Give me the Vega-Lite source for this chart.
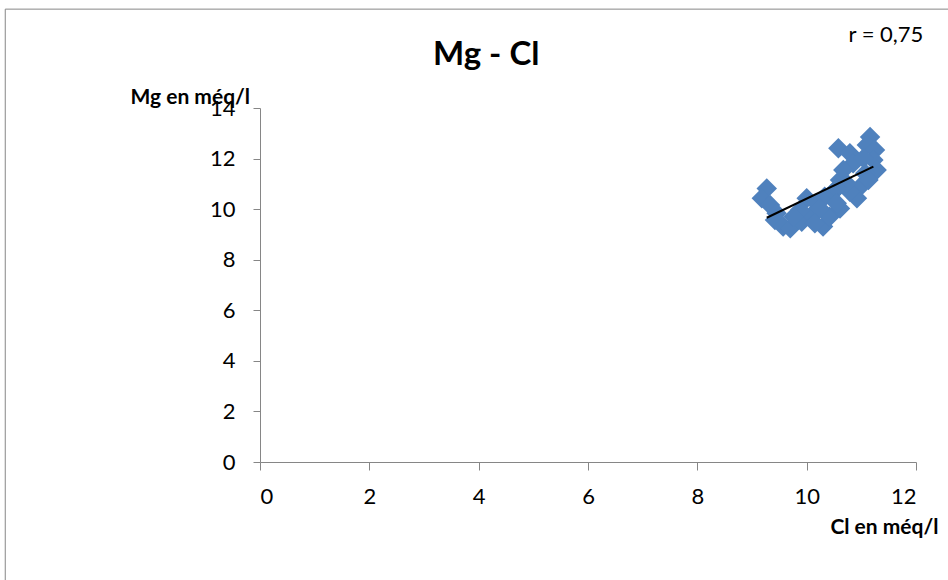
{
  "$schema": "https://vega.github.io/schema/vega-lite/v6.json",
  "width": 656,
  "height": 354,
  "autosize": {"type": "none"},
  "padding": {"left": 260, "top": 108, "right": 32, "bottom": 118},
  "background": "white",
  "title": {
    "text": "Mg - Cl",
    "font": "Lato",
    "fontSize": 33,
    "fontWeight": "bold",
    "color": "black",
    "anchor": "start",
    "frame": "group",
    "dx": 173,
    "baseline": "alphabetic",
    "offset": -89
  },
  "config": {
    "view": {"stroke": null},
    "axis": {
      "grid": false,
      "domainColor": "#868686",
      "tickColor": "#868686",
      "labelFont": "Lato",
      "labelFontSize": 22,
      "labelColor": "black",
      "titleFont": "Lato",
      "titleFontSize": 21,
      "titleFontWeight": "bold",
      "titleColor": "black"
    }
  },
  "layer": [
    {
      "data": {"values": [{"frame": "chart area"}]},
      "mark": {"type": "rect", "fill": null, "stroke": "#868686", "strokeWidth": 1, "clip": false},
      "encoding": {
        "x": {"datum": -4.66, "type": "quantitative"},
        "x2": {"datum": 12.8},
        "y": {"datum": 17.91, "type": "quantitative"},
        "y2": {"datum": -5.2}
      }
    },
    {
      "data": {
        "values": [
          {"cl": 9.27, "mg": 10.82},
          {"cl": 9.18, "mg": 10.43},
          {"cl": 9.33, "mg": 10.16},
          {"cl": 9.45, "mg": 9.84},
          {"cl": 9.42, "mg": 9.57},
          {"cl": 9.57, "mg": 9.31},
          {"cl": 9.70, "mg": 9.24},
          {"cl": 9.91, "mg": 9.50},
          {"cl": 10.00, "mg": 10.43},
          {"cl": 10.09, "mg": 9.77},
          {"cl": 10.18, "mg": 10.23},
          {"cl": 10.30, "mg": 9.31},
          {"cl": 10.42, "mg": 9.70},
          {"cl": 10.61, "mg": 10.03},
          {"cl": 10.33, "mg": 10.49},
          {"cl": 10.49, "mg": 10.69},
          {"cl": 10.61, "mg": 11.15},
          {"cl": 10.58, "mg": 12.41},
          {"cl": 10.79, "mg": 12.21},
          {"cl": 10.85, "mg": 11.81},
          {"cl": 10.67, "mg": 11.55},
          {"cl": 10.98, "mg": 10.89},
          {"cl": 10.92, "mg": 10.43},
          {"cl": 10.79, "mg": 10.69},
          {"cl": 11.16, "mg": 12.85},
          {"cl": 11.10, "mg": 12.54},
          {"cl": 11.25, "mg": 12.34},
          {"cl": 11.22, "mg": 11.94},
          {"cl": 11.28, "mg": 11.55},
          {"cl": 11.07, "mg": 11.42},
          {"cl": 11.13, "mg": 11.15},
          {"cl": 11.04, "mg": 12.01},
          {"cl": 10.73, "mg": 11.02},
          {"cl": 10.55, "mg": 10.82},
          {"cl": 10.24, "mg": 10.03},
          {"cl": 9.88, "mg": 9.97},
          {"cl": 9.76, "mg": 9.70},
          {"cl": 10.15, "mg": 9.44},
          {"cl": 10.55, "mg": 10.23}
        ]
      },
      "mark": {"type": "point", "shape": "diamond", "filled": true, "opacity": 1, "size": 420, "color": "#4F81BD"},
      "encoding": {
        "x": {
          "field": "cl", "type": "quantitative",
          "scale": {"domain": [0, 12], "nice": false},
          "axis": {
            "values": [0, 2, 4, 6, 8, 10, 12],
            "format": "d",
            "tickSize": 8,
            "labelPadding": 16,
            "title": "Cl  en méq/l",
            "titleX": 678,
            "titleY": 71,
            "titleAlign": "right",
            "titleAnchor": "end",
            "titleBaseline": "alphabetic"
          }
        },
        "y": {
          "field": "mg", "type": "quantitative",
          "scale": {"domain": [0, 14], "nice": false},
          "axis": {
            "values": [0, 2, 4, 6, 8, 10, 12, 14],
            "format": "d",
            "tickSize": 7,
            "labelPadding": 18,
            "title": "Mg  en méq/l",
            "titleAngle": 0,
            "titleX": -130,
            "titleY": -5,
            "titleAlign": "left",
            "titleBaseline": "alphabetic"
          }
        }
      }
    },
    {
      "data": {"values": [{"cl": 9.27, "mg": 9.66}, {"cl": 11.22, "mg": 11.68}]},
      "mark": {"type": "line", "color": "black", "strokeWidth": 2},
      "encoding": {
        "x": {"field": "cl", "type": "quantitative"},
        "y": {"field": "mg", "type": "quantitative"}
      }
    },
    {
      "data": {"values": [{"label": "r = 0,75"}]},
      "mark": {"type": "text", "font": "Lato", "fontSize": 22, "color": "black", "align": "center", "baseline": "alphabetic", "clip": false},
      "encoding": {
        "x": {"datum": 11.45, "type": "quantitative"},
        "y": {"datum": 16.61, "type": "quantitative"},
        "text": {"field": "label"}
      }
    }
  ]
}
